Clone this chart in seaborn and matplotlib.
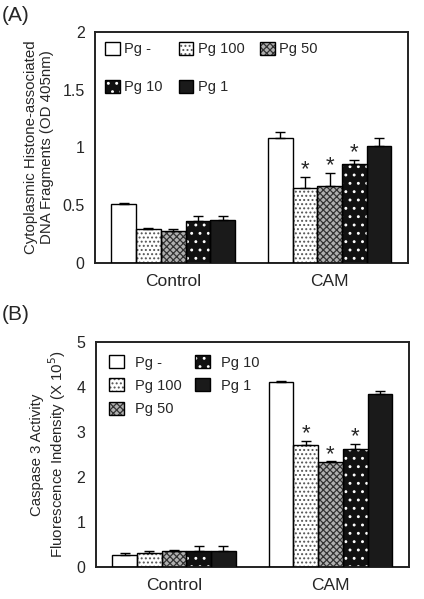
import numpy as np
import pandas as pd
import matplotlib
matplotlib.use("Agg")
import matplotlib.pyplot as plt
from matplotlib.patches import Rectangle
from matplotlib.legend_handler import HandlerTuple
import seaborn as sns

groups = ["Control", "CAM"]
treatments = ["Pg -", "Pg 100", "Pg 50", "Pg 10", "Pg 1"]

# panel A: DNA fragments (OD 405nm)
frag_control = [0.51, 0.29, 0.28, 0.36, 0.37]
frag_control_err = [0.01, 0.01, 0.01, 0.05, 0.04]
frag_cam = [1.08, 0.65, 0.67, 0.86, 1.01]
frag_cam_err = [0.05, 0.09, 0.11, 0.03, 0.07]

# panel B: caspase 3 activity (x 10^5)
casp_control = [0.28, 0.32, 0.37, 0.37, 0.37]
casp_control_err = [0.04, 0.04, 0.01, 0.10, 0.10]
casp_cam = [4.11, 2.72, 2.33, 2.62, 3.85]
casp_cam_err = [0.03, 0.08, 0.02, 0.11, 0.07]

signif = ["Pg 100", "Pg 50", "Pg 10"]  # starred in CAM group

# face colour, hatch pattern, hatch colour
styles = {
    "Pg -": ("white", None, "black"),
    "Pg 100": ("white", "....", "#555555"),
    "Pg 50": ("#b0b0b0", "xxxxx", "#333333"),
    "Pg 10": ("#111111", "..", "white"),
    "Pg 1": ("#1a1a1a", None, "#1a1a1a"),
}


def make_df(ctrl, ctrl_err, cam, cam_err):
    rows = []
    for g, vals, errs in [("Control", ctrl, ctrl_err), ("CAM", cam, cam_err)]:
        for t, v, e in zip(treatments, vals, errs):
            rows.append({"group": g, "treatment": t, "value": v, "err": e})
    return pd.DataFrame(rows)


def draw_panel(ax, df, ylim, yticks, yticklabels, ylabel, star_off):
    sns.barplot(data=df, x="group", y="value", hue="treatment", order=groups,
                hue_order=treatments, width=0.79, errorbar=None, ax=ax,
                legend=False)
    handles = {}
    for t, cont in zip(treatments, ax.containers):
        face, hatch, hcol = styles[t]
        sub = df[df.treatment == t].set_index("group").loc[groups]
        for bar, (g, row) in zip(cont, sub.iterrows()):
            bar.set_facecolor(face)
            bar.set_hatch(hatch)
            bar.set_edgecolor(hcol)
            bar.set_linewidth(0)
            x, y = bar.get_x(), bar.get_y()
            w, h = bar.get_width(), bar.get_height()
            ax.add_patch(Rectangle((x, y), w, h, fill=False, edgecolor="black",
                                   linewidth=1.0, zorder=3))
            xc = x + w / 2
            ax.errorbar(xc, row.value, yerr=[[0], [row.err]], fmt="none",
                        ecolor="black", elinewidth=1.0, capsize=3.5,
                        capthick=1.0, zorder=4)
            if g == "CAM" and t in signif:
                ax.text(xc, row.value + row.err + star_off, "*", ha="center",
                        va="center", fontsize=16, zorder=5)
        handles[t] = (Rectangle((0, 0), 1, 1, facecolor=face, hatch=hatch,
                                edgecolor=hcol, linewidth=0),
                      Rectangle((0, 0), 1, 1, fill=False, edgecolor="black",
                                linewidth=1.0))
    ax.set_ylim(*ylim)
    ax.set_xlim(-0.5, 1.5)
    ax.set_yticks(yticks)
    ax.set_yticklabels(yticklabels)
    ax.set_xlabel("")
    ax.set_ylabel(ylabel, fontsize=10.8, labelpad=6, linespacing=1.15)
    ax.tick_params(axis="y", labelsize=11.5, length=4, width=1.2, direction="out")
    ax.tick_params(axis="x", labelsize=12.5, length=0, pad=8)
    for s in ax.spines.values():
        s.set_visible(True)
        s.set_linewidth(1.4)
        s.set_color("#222222")
    return handles


sns.set_style("white")
plt.rcParams["font.family"] = ["Liberation Sans", "DejaVu Sans"]
plt.rcParams["hatch.linewidth"] = 0.9
fig = plt.figure(figsize=(4.24, 5.99), dpi=100)
axA = fig.add_axes([0.224, 0.561, 0.738, 0.386])
axB = fig.add_axes([0.226, 0.053, 0.738, 0.376])

dfA = make_df(frag_control, frag_control_err, frag_cam, frag_cam_err)
dfB = make_df(casp_control, casp_control_err, casp_cam, casp_cam_err)

hA = draw_panel(axA, dfA, (0, 2), [0, 0.5, 1, 1.5, 2],
                ["0", "0.5", "1", "1.5", "2"],
                "Cytoplasmic Histone-associated\nDNA Fragments (OD 405nm)", 0.065)
hB = draw_panel(axB, dfB, (0, 5), [0, 1, 2, 3, 4, 5],
                ["0", "1", "2", "3", "4", "5"],
                "Caspase 3 Activity\nFluorescence Indensity (X 10$^5$)", 0.16)

hmap = {tuple: HandlerTuple(ndivide=1, pad=0)}
orderA = ["Pg -", "Pg 10", "Pg 100", "Pg 1", "Pg 50"]
axA.legend([hA[t] for t in orderA], orderA, ncol=3, loc="upper left",
           frameon=False, fontsize=10.5, handlelength=1.0, handleheight=1.0,
           handletextpad=0.3, columnspacing=1.1, labelspacing=1.6,
           borderaxespad=0.3, handler_map=hmap)
axB.legend([hB[t] for t in treatments], treatments, ncol=2, loc="upper left",
           frameon=False, fontsize=10.5, handlelength=1.0, handleheight=1.0,
           handletextpad=0.8, columnspacing=0.9, labelspacing=0.6,
           borderaxespad=0.5, handler_map=hmap)

fig.text(0.005, 0.99, "(A)", fontsize=15, va="top", ha="left")
fig.text(0.005, 0.49, "(B)", fontsize=15, va="top", ha="left")

fig.savefig("out.png", dpi=100)
